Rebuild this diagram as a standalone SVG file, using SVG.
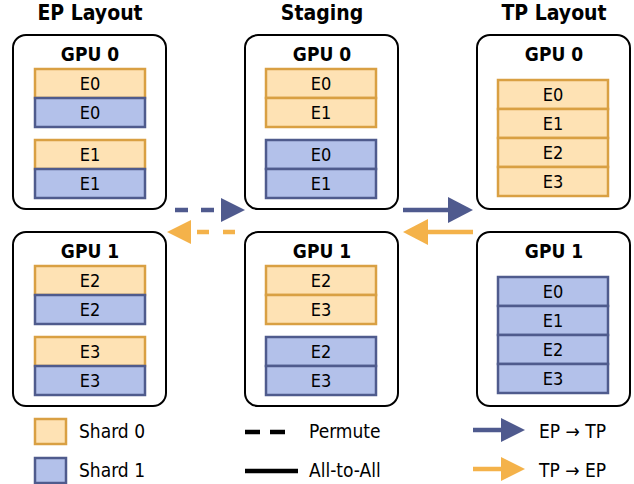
<svg xmlns="http://www.w3.org/2000/svg" width="634" height="484" viewBox="0 0 634 484">
  <style>
    text { font-family: "DejaVu Sans Condensed", "DejaVu Sans", Verdana, sans-serif; font-stretch: condensed; fill: #000; }
    .title { font-size: 21px; font-weight: bold; text-anchor: middle; }
    .gpu-label { font-size: 19px; font-weight: bold; text-anchor: middle; }
    .cell-label { font-size: 18px; text-anchor: middle; }
    .legend-label { font-size: 19px; }
    .gpu { fill: #fff; stroke: #000; stroke-width: 2; }
    .s0 { fill: #fee2b4; stroke: #d9a043; stroke-width: 2.5; }
    .s1 { fill: #b3c1ea; stroke: #4f5b8d; stroke-width: 2.5; }
    .blue-line { stroke: #4f5a8e; stroke-width: 4.5; fill: none; }
    .orange-line { stroke: #f4b24a; stroke-width: 4.5; fill: none; }
    .dash { stroke-dasharray: 13 13; }
    .blue-head { fill: #4f5a8e; }
    .orange-head { fill: #f4b24a; }
  </style>

  <!-- column titles -->
  <text class="title" x="90" y="20">EP Layout</text>
  <text class="title" x="322" y="20">Staging</text>
  <text class="title" x="554" y="20">TP Layout</text>

  <!-- EP layout, GPU 0 -->
  <g id="ep-gpu0">
    <rect class="gpu" x="13" y="35" width="153" height="174" rx="13"/>
    <text class="gpu-label" x="90" y="61">GPU 0</text>
    <rect class="s0" x="35" y="69" width="110" height="29"/>
    <text class="cell-label" x="90" y="90">E0</text>
    <rect class="s1" x="35" y="98" width="110" height="29"/>
    <text class="cell-label" x="90" y="119">E0</text>
    <rect class="s0" x="35" y="140" width="110" height="29"/>
    <text class="cell-label" x="90" y="161">E1</text>
    <rect class="s1" x="35" y="169" width="110" height="29"/>
    <text class="cell-label" x="90" y="190">E1</text>
  </g>

  <!-- EP layout, GPU 1 -->
  <g id="ep-gpu1">
    <rect class="gpu" x="13" y="232" width="153" height="174" rx="13"/>
    <text class="gpu-label" x="90" y="258">GPU 1</text>
    <rect class="s0" x="35" y="266" width="110" height="29"/>
    <text class="cell-label" x="90" y="287">E2</text>
    <rect class="s1" x="35" y="295" width="110" height="29"/>
    <text class="cell-label" x="90" y="316">E2</text>
    <rect class="s0" x="35" y="337" width="110" height="29"/>
    <text class="cell-label" x="90" y="358">E3</text>
    <rect class="s1" x="35" y="366" width="110" height="29"/>
    <text class="cell-label" x="90" y="387">E3</text>
  </g>

  <!-- Staging, GPU 0 -->
  <g id="staging-gpu0">
    <rect class="gpu" x="245" y="35" width="153" height="174" rx="13"/>
    <text class="gpu-label" x="322" y="61">GPU 0</text>
    <rect class="s0" x="266" y="69" width="110" height="29"/>
    <text class="cell-label" x="321" y="90">E0</text>
    <rect class="s0" x="266" y="98" width="110" height="29"/>
    <text class="cell-label" x="321" y="119">E1</text>
    <rect class="s1" x="266" y="140" width="110" height="29"/>
    <text class="cell-label" x="321" y="161">E0</text>
    <rect class="s1" x="266" y="169" width="110" height="29"/>
    <text class="cell-label" x="321" y="190">E1</text>
  </g>

  <!-- Staging, GPU 1 -->
  <g id="staging-gpu1">
    <rect class="gpu" x="245" y="232" width="153" height="174" rx="13"/>
    <text class="gpu-label" x="322" y="258">GPU 1</text>
    <rect class="s0" x="266" y="266" width="110" height="29"/>
    <text class="cell-label" x="321" y="287">E2</text>
    <rect class="s0" x="266" y="295" width="110" height="29"/>
    <text class="cell-label" x="321" y="316">E3</text>
    <rect class="s1" x="266" y="337" width="110" height="29"/>
    <text class="cell-label" x="321" y="358">E2</text>
    <rect class="s1" x="266" y="366" width="110" height="29"/>
    <text class="cell-label" x="321" y="387">E3</text>
  </g>

  <!-- TP layout, GPU 0 -->
  <g id="tp-gpu0">
    <rect class="gpu" x="477" y="35" width="153" height="174" rx="13"/>
    <text class="gpu-label" x="554" y="61">GPU 0</text>
    <rect class="s0" x="498" y="80" width="110" height="29"/>
    <text class="cell-label" x="553" y="101">E0</text>
    <rect class="s0" x="498" y="109" width="110" height="29"/>
    <text class="cell-label" x="553" y="130">E1</text>
    <rect class="s0" x="498" y="138" width="110" height="29"/>
    <text class="cell-label" x="553" y="159">E2</text>
    <rect class="s0" x="498" y="167" width="110" height="29"/>
    <text class="cell-label" x="553" y="188">E3</text>
  </g>

  <!-- TP layout, GPU 1 -->
  <g id="tp-gpu1">
    <rect class="gpu" x="477" y="232" width="153" height="174" rx="13"/>
    <text class="gpu-label" x="554" y="258">GPU 1</text>
    <rect class="s1" x="498" y="277" width="110" height="29"/>
    <text class="cell-label" x="553" y="298">E0</text>
    <rect class="s1" x="498" y="306" width="110" height="29"/>
    <text class="cell-label" x="553" y="327">E1</text>
    <rect class="s1" x="498" y="335" width="110" height="29"/>
    <text class="cell-label" x="553" y="356">E2</text>
    <rect class="s1" x="498" y="364" width="110" height="29"/>
    <text class="cell-label" x="553" y="385">E3</text>
  </g>

  <!-- transfers between layouts -->
  <g id="connectors">
    <!-- permute EP -> staging -->
    <line class="blue-line dash" x1="175" y1="210" x2="221" y2="210"/>
    <polygon class="blue-head" points="221,198 245,210 221,222"/>
    <!-- permute staging -> EP -->
    <line class="orange-line dash" x1="197" y1="232" x2="236" y2="232" style="stroke-dasharray: 12 14"/>
    <polygon class="orange-head" points="191,220 167,232 191,244"/>
    <!-- all-to-all staging -> TP -->
    <line class="blue-line" x1="403" y1="210" x2="449" y2="210"/>
    <polygon class="blue-head" points="448,197 473,210 448,223"/>
    <!-- all-to-all TP -> staging -->
    <line class="orange-line" x1="427" y1="232" x2="473" y2="232"/>
    <polygon class="orange-head" points="428,219 403,232 428,245"/>
  </g>

  <!-- legend -->
  <g id="legend">
    <rect class="s0" x="35" y="419" width="31" height="25"/>
    <text class="legend-label" x="79" y="438">Shard 0</text>
    <rect class="s1" x="35" y="458" width="31" height="25"/>
    <text class="legend-label" x="79" y="477">Shard 1</text>

    <line x1="245" y1="432" x2="285" y2="432" stroke="#000" stroke-width="4.5" stroke-dasharray="15 10"/>
    <text class="legend-label" x="309" y="438">Permute</text>
    <line x1="245" y1="471" x2="298" y2="471" stroke="#000" stroke-width="4.5"/>
    <text class="legend-label" x="309" y="477">All-to-All</text>

    <line class="blue-line" x1="473" y1="430" x2="502" y2="430"/>
    <polygon class="blue-head" points="501,418 525,430 501,442"/>
    <text class="legend-label" x="539" y="438">EP → TP</text>
    <line class="orange-line" x1="473" y1="469" x2="502" y2="469"/>
    <polygon class="orange-head" points="501,457 525,469 501,481"/>
    <text class="legend-label" x="539" y="477">TP → EP</text>
  </g>
</svg>
